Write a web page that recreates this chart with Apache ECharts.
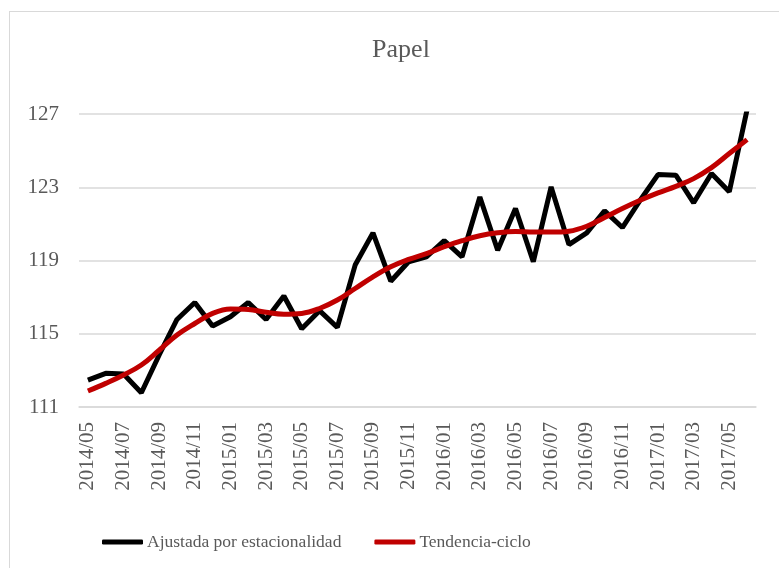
<!DOCTYPE html>
<html>
<head>
<meta charset="utf-8">
<script src="https://cdn.jsdelivr.net/npm/echarts@6/dist/echarts.min.js"></script>
<style>
  html, body { margin: 0; padding: 0; background: #fff; overflow: hidden; }
  #frame { position: absolute; left: 9px; top: 11px; width: 780px; height: 560px;
           border-top: 1.5px solid #d9d9d9; border-left: 1.5px solid #d9d9d9; }
  #chart { position: absolute; left: 0; top: 0; width: 779px; height: 568px; }
</style>
</head>
<body>
<div id="frame"></div>
<div id="chart"></div>
<script>
const categories = [
  '2014/05','2014/06','2014/07','2014/08','2014/09','2014/10','2014/11','2014/12',
  '2015/01','2015/02','2015/03','2015/04','2015/05','2015/06','2015/07','2015/08',
  '2015/09','2015/10','2015/11','2015/12','2016/01','2016/02','2016/03','2016/04',
  '2016/05','2016/06','2016/07','2016/08','2016/09','2016/10','2016/11','2016/12',
  '2017/01','2017/02','2017/03','2017/04','2017/05','2017/06'
];
const ajustada = [
  112.47, 112.84, 112.80, 111.78, 113.84, 115.78, 116.71, 115.42,
  115.93, 116.71, 115.78, 117.06, 115.27, 116.26, 115.35, 118.75,
  120.51, 117.87, 118.93, 119.20, 120.08, 119.20, 122.47, 119.56,
  121.84, 118.93, 123.02, 119.87, 120.51, 121.71, 120.80, 122.29,
  123.69, 123.66, 122.15, 123.75, 122.75, 127.24
];
const tendencia = [
  111.87, 112.29, 112.75, 113.29, 114.10, 114.93, 115.56, 116.11,
  116.35, 116.33, 116.17, 116.07, 116.11, 116.38, 116.84, 117.47,
  118.11, 118.66, 119.06, 119.38, 119.75, 120.08, 120.35, 120.51,
  120.58, 120.55, 120.55, 120.60, 120.87, 121.35, 121.84, 122.29,
  122.69, 123.05, 123.47, 124.07, 124.84, 125.60
];
const yTicks = { min: 111, max: 127, interval: 4 };

const font = '"Liberation Serif", "DejaVu Serif", serif';
const txt = '#595959';
const chart = echarts.init(document.getElementById('chart'), null, { renderer: 'canvas' });
chart.setOption({
  animation: false,
  backgroundColor: 'transparent',
  title: {
    text: 'Papel', left: 396, textAlign: 'center', top: 32,
    textStyle: { fontFamily: font, fontSize: 26, fontWeight: 'normal', color: txt }
  },
  legend: {
    left: 97, top: 528, itemGap: 33, itemWidth: 41, itemHeight: 5,
    textStyle: { fontFamily: font, fontSize: 17.5, color: txt, padding: [0, 0, 0, -1] },
    data: [
      { name: 'Ajustada por estacionalidad', icon: 'roundRect' },
      { name: 'Tendencia-ciclo', icon: 'roundRect' }
    ]
  },
  grid: { left: 79, right: 23, top: 114, bottom: 161 },
  xAxis: {
    type: 'category', data: categories, boundaryGap: true,
    axisLine: { lineStyle: { color: '#d9d9d9', width: 1.5 } },
    axisTick: { show: false },
    axisLabel: { interval: 1, rotate: 90, margin: 15, fontFamily: font, fontSize: 21, color: txt }
  },
  yAxis: {
    type: 'value', min: yTicks.min, max: yTicks.max, interval: yTicks.interval,
    axisLine: { show: false }, axisTick: { show: false },
    splitLine: { lineStyle: { color: '#d9d9d9', width: 1.5 } },
    axisLabel: { margin: 20, fontFamily: font, fontSize: 21, color: txt }
  },
  series: [
    { name: 'Ajustada por estacionalidad', type: 'line', data: ajustada, symbol: 'none',
      color: '#000000', lineStyle: { width: 5, color: '#000000' } },
    { name: 'Tendencia-ciclo', type: 'line', data: tendencia, symbol: 'none', smooth: 0.4,
      color: '#c00000', lineStyle: { width: 5, color: '#c00000' } }
  ]
});
</script>
</body>
</html>
